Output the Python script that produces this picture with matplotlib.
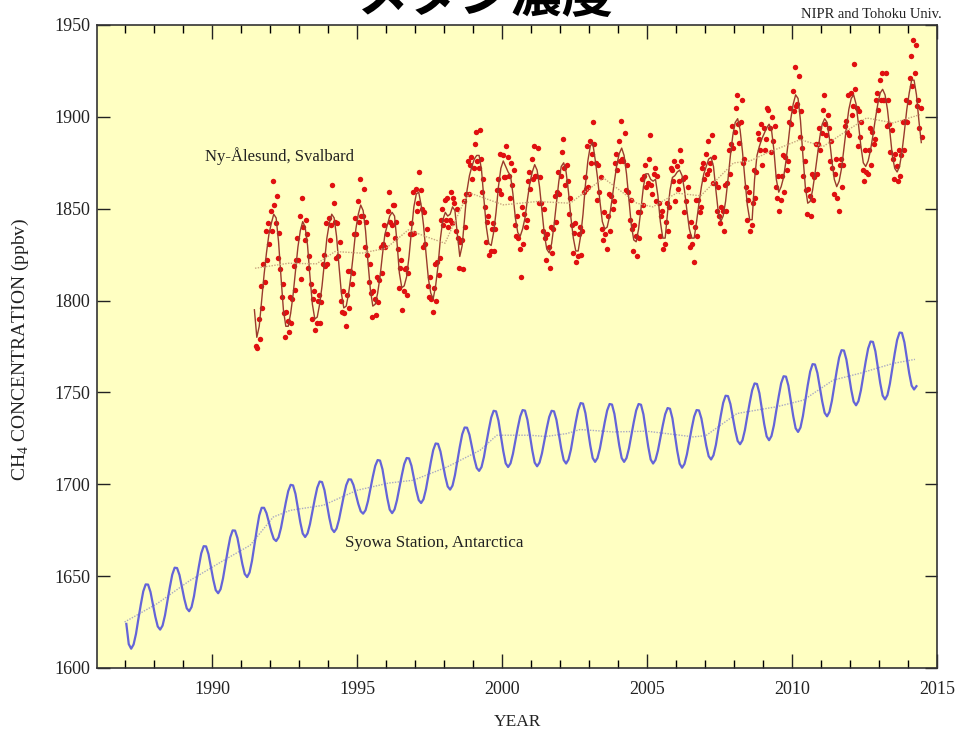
import numpy as np
import matplotlib
matplotlib.use("Agg")
import matplotlib.pyplot as plt
from matplotlib.ticker import MultipleLocator

# ---------------- data ----------------
# Syowa Station monthly CH4 (ppbv), Jan 1987 .. Apr 2014
syowa_start_year = 1987.0
syowa_monthly = [
    1624, 1613, 1610.5, 1612.8, 1618.6, 1626.8, 1634.6, 1641.7, 1645.5, 1645.4, 1641.4, 1634.7,
    1627.9, 1622.6, 1620.9, 1623.1, 1628.7, 1636.5, 1644.0, 1650.8, 1654.6, 1654.4, 1650.6, 1644.1,
    1637.6, 1632.5, 1630.9, 1633.2, 1639.1, 1647.4, 1655.2, 1662.4, 1666.3, 1666.2, 1662.0, 1655.0,
    1648.0, 1642.4, 1640.7, 1642.9, 1648.7, 1656.6, 1664.2, 1671.1, 1674.9, 1674.8, 1670.7, 1663.7,
    1656.7, 1651.2, 1649.5, 1652.0, 1658.3, 1667.0, 1675.4, 1683.0, 1687.2, 1687.2, 1684.3, 1679.3,
    1674.3, 1670.3, 1669.1, 1671.1, 1676.2, 1683.3, 1690.1, 1696.3, 1699.7, 1699.4, 1694.8, 1687.1,
    1679.3, 1673.2, 1671.3, 1673.3, 1678.3, 1685.3, 1692.0, 1698.1, 1701.5, 1701.2, 1696.8, 1689.3,
    1681.8, 1675.8, 1674.0, 1675.9, 1680.7, 1687.3, 1693.7, 1699.5, 1702.7, 1702.6, 1699.6, 1694.5,
    1689.3, 1685.3, 1684.0, 1685.9, 1690.8, 1697.6, 1704.1, 1710.0, 1713.2, 1712.9, 1708.2, 1700.4,
    1692.5, 1686.2, 1684.3, 1686.3, 1691.3, 1698.2, 1704.9, 1711.0, 1714.3, 1714.1, 1710.1, 1703.4,
    1696.7, 1691.4, 1689.8, 1691.9, 1697.3, 1704.8, 1712.0, 1718.6, 1722.2, 1722.0, 1717.9, 1711.1,
    1704.2, 1698.8, 1697.1, 1699.3, 1705.0, 1712.8, 1720.4, 1727.2, 1730.9, 1730.8, 1727.0, 1720.5,
    1714.0, 1708.9, 1707.3, 1709.4, 1714.9, 1722.5, 1729.7, 1736.3, 1740.0, 1739.7, 1734.7, 1726.4,
    1718.1, 1711.4, 1709.4, 1711.4, 1716.6, 1723.8, 1730.7, 1736.9, 1740.4, 1740.1, 1735.1, 1726.8,
    1718.5, 1711.8, 1709.8, 1711.8, 1716.8, 1723.8, 1730.5, 1736.6, 1740.0, 1739.7, 1735.1, 1727.3,
    1719.4, 1713.2, 1711.3, 1713.5, 1718.9, 1726.6, 1733.9, 1740.5, 1744.2, 1743.9, 1738.7, 1730.0,
    1721.2, 1714.3, 1712.2, 1714.3, 1719.5, 1726.8, 1733.8, 1740.2, 1743.7, 1743.4, 1738.3, 1729.7,
    1721.1, 1714.3, 1712.2, 1714.3, 1719.5, 1726.8, 1733.8, 1740.2, 1743.7, 1743.3, 1738.1, 1729.3,
    1720.5, 1713.5, 1711.3, 1713.3, 1718.3, 1725.3, 1732.0, 1738.1, 1741.5, 1741.1, 1735.9, 1727.0,
    1718.2, 1711.2, 1709.0, 1711.1, 1716.3, 1723.6, 1730.6, 1736.9, 1740.4, 1740.2, 1735.8, 1728.5,
    1721.1, 1715.3, 1713.5, 1715.8, 1721.5, 1729.6, 1737.3, 1744.3, 1748.2, 1748.0, 1743.7, 1736.5,
    1729.3, 1723.6, 1721.8, 1724.0, 1729.5, 1737.2, 1744.5, 1751.2, 1754.9, 1754.6, 1749.6, 1741.2,
    1732.7, 1726.1, 1724.0, 1726.3, 1732.1, 1740.2, 1747.9, 1755.0, 1758.8, 1758.6, 1753.7, 1745.4,
    1737.1, 1730.5, 1728.5, 1730.9, 1737.1, 1745.7, 1753.9, 1761.3, 1765.4, 1765.2, 1760.6, 1752.8,
    1745.1, 1738.9, 1737.0, 1739.4, 1745.4, 1753.7, 1761.8, 1769.0, 1773.0, 1772.8, 1767.9, 1759.7,
    1751.5, 1745.0, 1743.0, 1745.3, 1751.1, 1759.1, 1766.9, 1773.9, 1777.7, 1777.5, 1772.4, 1763.7,
    1755.1, 1748.3, 1746.2, 1748.6, 1754.7, 1763.1, 1771.2, 1778.6, 1782.6, 1782.4, 1777.3, 1768.9,
    1760.4, 1753.7, 1751.6, 1753.4,
]

# Syowa long-term trend
syowa_trend_year = [1986.98, 1988.1, 1989.24, 1990.39, 1991.31, 1992.11, 1992.69, 1993.84,
                    1994.99, 1996.1, 1996.94, 1998.1, 1999.24, 1999.82, 2000.97, 2001.5,
                    2002.23, 2002.69, 2003.84, 2004.99, 2006.14, 2006.6, 2007.03, 2008.1,
                    2008.9, 2009.47, 2010.39, 2011.42, 2012.34, 2013.49, 2014.24]
syowa_trend = [1625, 1635, 1647.7, 1658.5, 1666.8, 1682.2, 1685.8, 1688.6,
               1696.7, 1700.7, 1702.2, 1709.4, 1718.5, 1726.7, 1726.7, 1726,
               1727.6, 1729.8, 1728.5, 1728.9, 1726.7, 1725.8, 1726.5, 1738.5,
               1740.7, 1742.2, 1745.8, 1756.7, 1760.4, 1765.8, 1768]

# Ny-Alesund smoothed monthly curve, Jun 1991 .. Jun 2014
ny_curve_start_year = 1991 + 5 / 12
ny_curve = [
    1795, 1780, 1786, 1800, 1814, 1826, 1836,
    1842, 1847, 1845, 1832, 1813, 1795, 1786, 1786, 1793, 1803, 1816, 1829,
    1838, 1843, 1840, 1830, 1813, 1798, 1790, 1791, 1798, 1808, 1821, 1834,
    1842, 1847, 1845, 1835, 1819, 1804, 1796, 1797, 1804, 1814, 1826, 1839,
    1847, 1852, 1849, 1838, 1821, 1806, 1797, 1798, 1804, 1813, 1825, 1836,
    1841, 1846, 1848, 1846, 1832, 1815, 1807, 1808, 1813, 1824, 1838, 1851,
    1858, 1859, 1852, 1841, 1826, 1812, 1804, 1801, 1808, 1819, 1834, 1844,
    1848, 1846, 1847, 1851, 1849, 1836, 1824, 1830, 1845, 1860, 1868, 1873,
    1877, 1879, 1879, 1871, 1855, 1840, 1831, 1830, 1837, 1848, 1862, 1872,
    1876, 1873, 1870, 1868, 1858, 1845, 1837, 1835, 1839, 1845, 1855, 1864,
    1870, 1874, 1871, 1862, 1849, 1836, 1828, 1826, 1831, 1841, 1853, 1865,
    1873, 1875, 1870, 1859, 1845, 1834, 1827, 1827, 1835, 1847, 1863, 1876,
    1884, 1886, 1877, 1867, 1854, 1843, 1839, 1840, 1846, 1855, 1865, 1874,
    1880, 1883, 1879, 1869, 1855, 1841, 1833, 1832, 1839, 1850, 1862, 1869,
    1869, 1866, 1865, 1866, 1857, 1843, 1834, 1834, 1848, 1860, 1867, 1868,
    1870, 1871, 1868, 1860, 1849, 1839, 1834, 1834, 1843, 1853, 1862, 1869,
    1873, 1877, 1878, 1873, 1860, 1848, 1843, 1846, 1854, 1866, 1879, 1890,
    1897, 1899, 1893, 1881, 1866, 1852, 1844, 1844, 1866, 1879, 1884, 1888,
    1891, 1894, 1896, 1893, 1882, 1866, 1859, 1862, 1867, 1876, 1887, 1899,
    1907, 1912, 1910, 1898, 1879, 1862, 1853, 1854, 1860, 1869, 1879, 1889,
    1896, 1899, 1897, 1888, 1876, 1866, 1862, 1865, 1872, 1883, 1894, 1904,
    1910, 1912, 1907, 1896, 1884, 1875, 1873, 1876, 1882, 1890, 1899, 1907,
    1913, 1915, 1912, 1904, 1892, 1879, 1872, 1870, 1873, 1881, 1892, 1904,
    1913, 1920, 1920, 1912, 1898, 1886,
]

# Ny-Alesund individual samples (two per month), Jul 1991 .. Jun 2014
ny_dots_start_year = 1991.5
ny_dots = [
    1775, 1774, 1790, 1779, 1808, 1796, 1820, 1810, 1838, 1822, 1842, 1831,
    1849, 1838, 1865, 1852, 1842, 1857, 1823, 1837, 1817, 1802, 1809, 1793, 1780, 1794, 1789, 1783, 1802, 1788, 1801, 1819, 1806, 1822, 1834, 1822,
    1846, 1812, 1856, 1840, 1833, 1844, 1836, 1818, 1824, 1809, 1790, 1801, 1805, 1784, 1788, 1800, 1803, 1788, 1799, 1820, 1825, 1819, 1842, 1820,
    1845, 1833, 1841, 1863, 1853, 1843, 1823, 1842, 1824, 1832, 1800, 1794, 1805, 1793, 1786, 1803, 1816, 1796, 1816, 1809, 1815, 1836, 1845, 1836,
    1854, 1843, 1866, 1846, 1846, 1861, 1829, 1843, 1825, 1810, 1820, 1804, 1791, 1805, 1801, 1792, 1813, 1799, 1811, 1829, 1815, 1831, 1841, 1829,
    1836, 1849, 1859, 1843, 1841, 1852, 1852, 1834, 1843, 1828, 1807, 1818, 1822, 1795, 1805, 1817, 1818, 1803, 1815, 1836, 1842, 1836, 1859, 1837,
    1861, 1849, 1853, 1870, 1860, 1850, 1829, 1848, 1831, 1839, 1808, 1802, 1813, 1801, 1794, 1807, 1820, 1800, 1821, 1814, 1823, 1844, 1850, 1841,
    1855, 1844, 1856, 1840, 1844, 1859, 1842, 1856, 1853, 1838, 1850, 1834, 1818, 1832, 1833, 1817, 1854, 1840, 1858, 1876, 1858, 1874, 1878, 1866,
    1872, 1885, 1892, 1876, 1872, 1893, 1877, 1859, 1866, 1851, 1832, 1843, 1846, 1825, 1827, 1839, 1842, 1827, 1839, 1860, 1866, 1860, 1880, 1858,
    1879, 1867, 1867, 1884, 1878, 1868, 1856, 1875, 1863, 1871, 1841, 1835, 1846, 1834, 1828, 1813, 1851, 1831, 1847, 1840, 1844, 1865, 1870, 1861,
    1877, 1866, 1884, 1868, 1868, 1883, 1853, 1867, 1853, 1838, 1850, 1834, 1822, 1836, 1829, 1818, 1840, 1826, 1839, 1857, 1843, 1859, 1870, 1858,
    1868, 1881, 1888, 1872, 1863, 1874, 1865, 1847, 1856, 1841, 1826, 1837, 1842, 1821, 1824, 1836, 1840, 1825, 1838, 1859, 1867, 1861, 1884, 1862,
    1887, 1875, 1880, 1897, 1885, 1875, 1855, 1874, 1859, 1867, 1839, 1833, 1848, 1836, 1828, 1846, 1858, 1838, 1857, 1850, 1854, 1875, 1880, 1871,
    1887, 1876, 1898, 1877, 1876, 1891, 1860, 1874, 1859, 1844, 1855, 1839, 1827, 1841, 1835, 1824, 1848, 1834, 1848, 1866, 1852, 1868, 1874, 1862,
    1864, 1877, 1890, 1863, 1858, 1869, 1872, 1854, 1868, 1853, 1835, 1846, 1849, 1828, 1831, 1843, 1853, 1838, 1851, 1872, 1871, 1865, 1876, 1854,
    1873, 1861, 1865, 1882, 1876, 1866, 1848, 1867, 1854, 1862, 1835, 1829, 1843, 1831, 1821, 1840, 1855, 1835, 1855, 1848, 1851, 1872, 1875, 1866,
    1880, 1869, 1887, 1871, 1875, 1890, 1864, 1878, 1864, 1849, 1862, 1846, 1842, 1851, 1849, 1838, 1863, 1849, 1864, 1882, 1869, 1885, 1895, 1883,
    1892, 1905, 1912, 1896, 1886, 1897, 1909, 1875, 1877, 1862, 1844, 1855, 1859, 1838, 1841, 1853, 1871, 1856, 1870, 1891, 1888, 1882, 1896, 1874,
    1894, 1882, 1888, 1905, 1904, 1894, 1881, 1900, 1887, 1895, 1862, 1856, 1868, 1849, 1855, 1868, 1879, 1859, 1878, 1871, 1876, 1897, 1905, 1896,
    1914, 1903, 1927, 1906, 1907, 1922, 1889, 1903, 1883, 1868, 1876, 1860, 1847, 1861, 1857, 1846, 1869, 1855, 1867, 1885, 1869, 1885, 1894, 1882,
    1891, 1904, 1912, 1896, 1890, 1901, 1894, 1876, 1887, 1872, 1858, 1869, 1877, 1856, 1849, 1874, 1877, 1862, 1874, 1895, 1898, 1892, 1912, 1890,
    1913, 1901, 1906, 1929, 1915, 1905, 1884, 1903, 1889, 1897, 1871, 1865, 1882, 1870, 1869, 1882, 1894, 1874, 1892, 1885, 1888, 1909, 1913, 1904,
    1920, 1909, 1924, 1909, 1909, 1924, 1895, 1909, 1896, 1881, 1893, 1877, 1866, 1880, 1873, 1865, 1882, 1868, 1879, 1897, 1882, 1898, 1909, 1897,
    1908, 1921, 1933, 1917, 1942, 1924, 1939, 1906, 1909, 1894, 1905, 1889,
]

# Ny-Alesund long-term trend
ny_trend_year = [1991.48, 1992.63, 1993.6, 1994.24, 1995.16, 1996.0, 1996.77, 1997.34,
                 1998.03, 1998.72, 1998.9, 2000.04, 2001.2, 2002.35, 2003.5, 2004.65,
                 2005.2, 2006.02, 2006.85, 2007.98, 2008.55, 2009.13, 2010.28, 2011.08,
                 2011.77, 2012.57, 2013.49, 2014.41]
ny_trend = [1817.6, 1820.3, 1820, 1826.7, 1825.8, 1828.5, 1838.5, 1835,
            1831.2, 1854.9, 1858.5, 1852.1, 1853.9, 1853, 1866.7, 1853,
            1851, 1858.5, 1857, 1874.9, 1876, 1880.3, 1887.6, 1883.9,
            1891.2, 1899.4, 1896.7, 1901.2]

x_major_ticks = [1990, 1995, 2000, 2005, 2010, 2015]
y_major_ticks = [1600, 1650, 1700, 1750, 1800, 1850, 1900, 1950]

# ---------------- figure ----------------
SERIF = ["Liberation Serif", "DejaVu Serif"]
plt.rcParams["font.family"] = SERIF
plt.rcParams["mathtext.fontset"] = "custom"
plt.rcParams["mathtext.rm"] = "Liberation Serif"

fig = plt.figure(figsize=(9.55, 7.34), dpi=100)
fig.patch.set_facecolor("white")
ax = fig.add_axes([97 / 955, 1 - 668 / 734, 840 / 955, 643 / 734])
ax.set_facecolor("#ffffc2")

syowa_t = syowa_start_year + (np.arange(len(syowa_monthly)) + 0.5) / 12
ny_curve_t = ny_curve_start_year + (np.arange(len(ny_curve)) + 0.5) / 12
ny_dots_t = ny_dots_start_year + (np.arange(len(ny_dots)) + 0.5) / 24

ax.plot(syowa_trend_year, syowa_trend, color="#a9a9c4", lw=1.0, ls=(0, (1, 1)), zorder=2)
ax.plot(syowa_t, syowa_monthly, color="#6464d8", lw=1.6, zorder=3)

ax.plot(ny_dots_t, ny_dots, ls="none", marker="o", ms=3.9, color="#e01010",
        markeredgewidth=0, zorder=4)
ax.plot(ny_curve_t, ny_curve, color="#9a3a2c", lw=1.0, zorder=5)
ax.plot(ny_trend_year, ny_trend, color="#c8a57e", lw=1.0, ls=(0, (1, 1)), zorder=5)

ax.set_xlim(1986.03, 2015)
ax.set_ylim(1600, 1950)
ax.xaxis.set_major_locator(MultipleLocator(5))
ax.xaxis.set_minor_locator(MultipleLocator(1))
ax.set_xticks(x_major_ticks)
ax.set_yticks(y_major_ticks)
ax.set_yticklabels([str(v) for v in y_major_ticks])
ax.set_xticklabels([str(v) for v in x_major_ticks])

ax.tick_params(axis="x", which="major", direction="in", length=10, width=1,
               top=True, bottom=True, labelsize=13, pad=9, colors="#222222")
ax.tick_params(axis="x", which="minor", direction="in", length=6, width=1,
               top=True, bottom=True)
ax.tick_params(axis="y", which="major", direction="in", length=9, width=1,
               left=True, right=True, labelsize=13, pad=5, colors="#222222")
ax.tick_params(axis="y", which="minor", left=False, right=False)

for sp in ax.spines.values():
    sp.set_color("#333333")
    sp.set_linewidth(1.2)

ax.text(1989.76, 1878.5, "Ny-Ålesund, Svalbard", fontsize=12, ha="left",
        va="center", color="#222222")
ax.text(1994.59, 1667.8, "Syowa Station, Antarctica", fontsize=12.3, ha="left",
        va="center", color="#222222")

fig.text(517 / 955, 1 - 722 / 734, "YEAR", fontsize=12.5, ha="center", va="center",
         color="#222222")
fig.text(31 / 955, 1 - 349 / 734, "CH$_4$ CONCENTRATION (ppbv)", fontsize=14,
         rotation=90, ha="right", va="center", color="#222222")
fig.text(942 / 955, 1 - 15 / 734, "NIPR and Tohoku Univ.", fontsize=10.5,
         ha="right", va="center", color="#222222")
fig.text(485 / 955, 1 + 4 / 734, "メタン濃度", fontsize=37, fontweight="bold",
         ha="center", va="center", color="black",
         family=["Noto Sans CJK JP", "DejaVu Sans"])

fig.savefig("out.png", dpi=100)
